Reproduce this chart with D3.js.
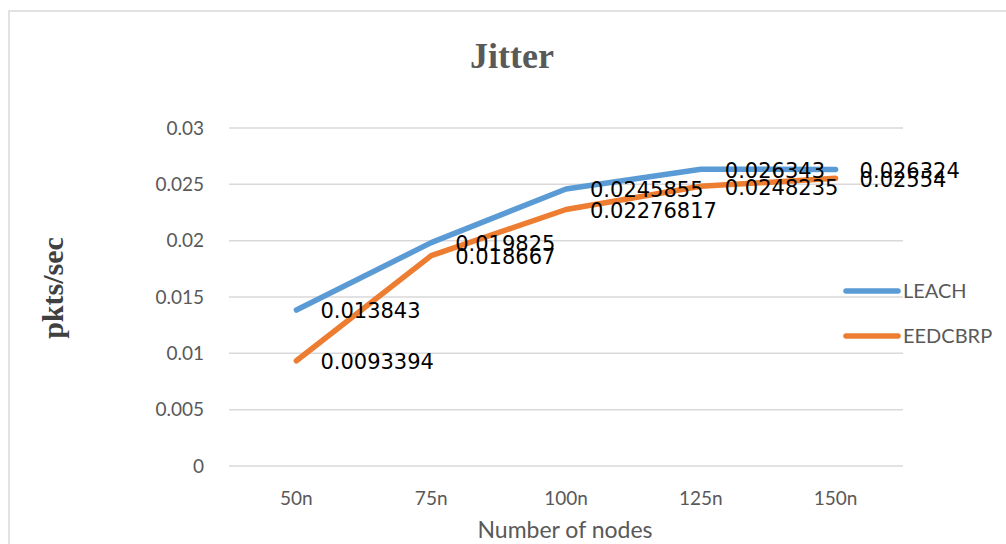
<!DOCTYPE html>
<html lang="en">
<head>
<meta charset="UTF-8">
<title>Jitter</title>
<script src="https://d3js.org/d3.v7.min.js"></script>
<style>
  body { margin: 0; background: white; }
  svg { display: block; }
  .grid line { stroke: #d9d9d9; stroke-width: 1.5px; }
  .tick-label { font-family: Lato, sans-serif; font-size: 19px; fill: #595959; }
  .legend-label { font-family: Lato, sans-serif; font-size: 20px; fill: #595959; }
  .data-label { font-family: "DejaVu Sans", sans-serif; font-size: 21px; fill: #000; }
</style>
</head>
<body>
<script>
// chart data
var categories = ["50n", "75n", "100n", "125n", "150n"];
var leach = [0.013843, 0.019825, 0.0245855, 0.026343, 0.026324];
var eedcbrp = [0.0093394, 0.018667, 0.02276817, 0.0248235, 0.02554];
var leachLabels = ["0.013843", "0.019825", "0.0245855", "0.026343", "0.026324"];
var eedcbrpLabels = ["0.0093394", "0.018667", "0.02276817", "0.0248235", "0.02554"];
var yTicks = [0, 0.005, 0.01, 0.015, 0.02, 0.025, 0.03];
var yTickLabels = ["0", "0.005", "0.01", "0.015", "0.02", "0.025", "0.03"];

var series = [
  { name: "LEACH", values: leach, labels: leachLabels, color: "#5B9BD5" },
  { name: "EEDCBRP", values: eedcbrp, labels: eedcbrpLabels, color: "#ED7D31" }
];

var width = 1006, height = 544;
var svg = d3.select("body").append("svg")
  .attr("width", width)
  .attr("height", height);

// outer frame
svg.append("rect")
  .attr("x", 9).attr("y", 11)
  .attr("width", 1010).attr("height", 560)
  .attr("fill", "white")
  .attr("stroke", "#d9d9d9")
  .attr("stroke-width", 1.5);

// scales
var x = d3.scaleBand().domain(categories).range([229, 903]);
var y = d3.scaleLinear().domain([0, 0.03]).range([466, 128]);
var cx = function (c) { return x(c) + x.bandwidth() / 2; };

// gridlines
svg.append("g").attr("class", "grid")
  .selectAll("line")
  .data(yTicks)
  .enter().append("line")
  .attr("x1", 229).attr("x2", 903)
  .attr("y1", function (d) { return y(d); })
  .attr("y2", function (d) { return y(d); });

// y tick labels
svg.append("g")
  .selectAll("text")
  .data(yTicks)
  .enter().append("text")
  .attr("class", "tick-label")
  .attr("x", 204)
  .attr("y", function (d) { return y(d); })
  .attr("dy", "0.35em")
  .attr("text-anchor", "end")
  .text(function (d, i) { return yTickLabels[i]; });

// x tick labels
svg.append("g")
  .selectAll("text")
  .data(categories)
  .enter().append("text")
  .attr("class", "tick-label")
  .attr("x", function (d) { return cx(d); })
  .attr("y", 498)
  .attr("dy", "0.35em")
  .attr("text-anchor", "middle")
  .text(function (d) { return d; });

// lines
var line = d3.line()
  .x(function (d, i) { return cx(categories[i]); })
  .y(function (d) { return y(d); });

series.forEach(function (s) {
  svg.append("path")
    .datum(s.values)
    .attr("d", line)
    .attr("fill", "none")
    .attr("stroke", s.color)
    .attr("stroke-width", 5.5)
    .attr("stroke-linecap", "round")
    .attr("stroke-linejoin", "round");
});

// data labels
series.forEach(function (s) {
  svg.append("g")
    .selectAll("text")
    .data(s.values)
    .enter().append("text")
    .attr("class", "data-label")
    .attr("x", function (d, i) { return cx(categories[i]) + 24; })
    .attr("y", function (d) { return y(d) + 1; })
    .attr("dy", "0.35em")
    .text(function (d, i) { return s.labels[i]; });
});

// legend
series.forEach(function (s, i) {
  var ly = 291 + i * 45;
  svg.append("line")
    .attr("x1", 846).attr("x2", 898)
    .attr("y1", ly).attr("y2", ly)
    .attr("stroke", s.color)
    .attr("stroke-width", 5.5)
    .attr("stroke-linecap", "round");
  svg.append("text")
    .attr("class", "legend-label")
    .attr("x", 903)
    .attr("y", ly)
    .attr("dy", "0.35em")
    .text(s.name);
});

// title
svg.append("text")
  .attr("x", 512).attr("y", 55)
  .attr("dy", "0.35em")
  .attr("text-anchor", "middle")
  .attr("font-family", "'Liberation Serif', serif")
  .attr("font-weight", "bold")
  .attr("font-size", 36)
  .attr("fill", "#595959")
  .text("Jitter");

// axis titles
svg.append("text")
  .attr("transform", "translate(52,288) rotate(-90)")
  .attr("dy", "0.35em")
  .attr("text-anchor", "middle")
  .attr("font-family", "'Liberation Serif', serif")
  .attr("font-weight", "bold")
  .attr("font-size", 30)
  .attr("fill", "#404040")
  .text("pkts/sec");

svg.append("text")
  .attr("x", 565).attr("y", 530)
  .attr("dy", "0.35em")
  .attr("text-anchor", "middle")
  .attr("font-family", "Lato, sans-serif")
  .attr("font-size", 23)
  .attr("fill", "#595959")
  .text("Number of nodes");
</script>
</body>
</html>
